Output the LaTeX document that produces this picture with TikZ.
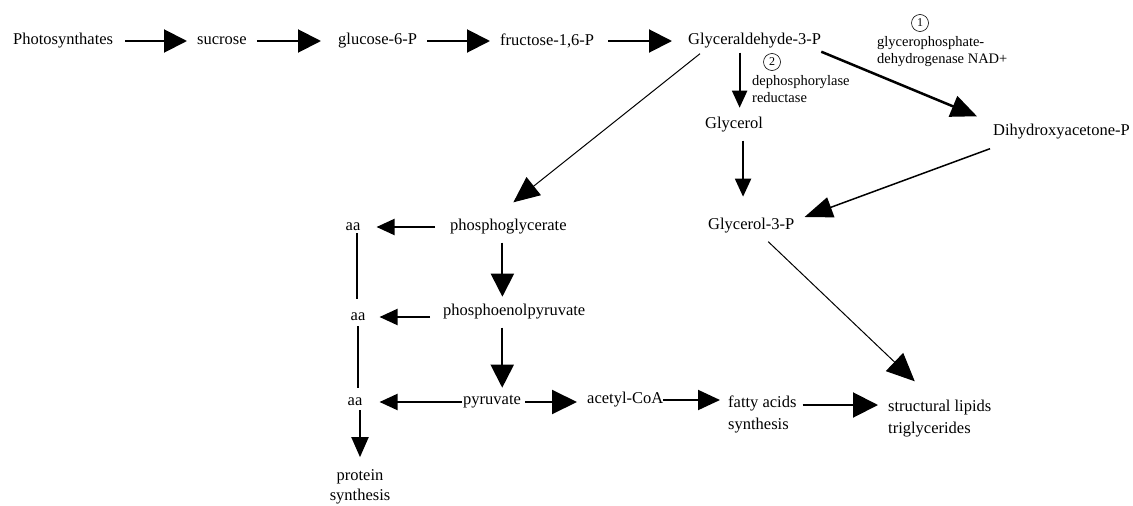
\documentclass[tikz,border=0pt]{standalone}
\usepackage{fontspec}
\setmainfont{Liberation Serif}
\usetikzlibrary{arrows.meta,calc}
\begin{document}
\begin{tikzpicture}[x=1pt,y=-1pt,
  lbl/.style={inner sep=0pt,font=\fontsize{16.5pt}{22pt}\selectfont,anchor=west},
  small/.style={inner sep=0pt,font=\fontsize{14.5pt}{17pt}\selectfont,anchor=west,align=left},
  num/.style={circle,draw,line width=0.6pt,inner sep=0pt,minimum size=17pt,font=\fontsize{12pt}{12pt}\selectfont},
  bigarr/.style={line width=2pt,-{Triangle[length=23pt,width=23pt]}},
  midarr/.style={line width=2pt,-{Triangle[length=18pt,width=16pt]}},
  thinarr/.style={line width=1pt,-{Triangle[length=26pt,width=23pt]}},
  plain/.style={line width=1.8pt}]
\useasboundingbox (0,0) rectangle (1133,506);
% top row
\node[lbl] (photo) at (13,41) {Photosynthates};
\node[lbl] (suc) at (197,41) {sucrose};
\node[lbl] (g6p) at (338,41) {glucose-6-P};
\node[lbl] (f16p) at (500,41) {fructose-1,6-P};
\node[lbl] (gap) at (688,41) {Glyceraldehyde-3-P};
% enzymes
\node[num] (c1) at (920,23) {1};
\node[small] (enz1) at (877,52) {glycerophosphate-\\dehydrogenase NAD+};
\node[num] (c2) at (772,62) {2};
\node[small] (enz2) at (752,89) {dephosphorylase\\reductase};
% right column
\node[lbl] (glyc) at (705,125) {Glycerol};
\node[lbl] (dhap) at (993,132) {Dihydroxyacetone-P};
\node[lbl] (g3p) at (708,226) {Glycerol-3-P};
% middle column
\node[lbl] (pg) at (450,227) {phosphoglycerate};
\node[lbl] (pep) at (443,312) {phosphoenolpyruvate};
\node[lbl] (pyr) at (463,402) {pyruvate};
\node[lbl] (acoa) at (587,400) {acetyl-CoA};
\node[lbl,align=left] (fa) at (728,414) {fatty acids\\synthesis};
\node[lbl,align=left] (sl) at (888,419) {structural lipids\\triglycerides};
% aa column
\node[lbl,anchor=center] (aa1) at (353,227) {aa};
\node[lbl,anchor=center] (aa2) at (358,317) {aa};
\node[lbl,anchor=center] (aa3) at (355,402) {aa};
\node[lbl,anchor=center,align=center,font=\fontsize{16.5pt}{20pt}\selectfont] (prot) at (360,487) {protein\\synthesis};

% top row arrows
\draw[bigarr] ($(photo.east)+(12,0)$) -- ($(suc.west)+(-10,0)$);
\draw[bigarr] ($(suc.east)+(10,0)$) -- ($(g6p.west)+(-17,0)$);
\draw[bigarr] ($(g6p.east)+(10,0)$) -- ($(f16p.west)+(-10,0)$);
\draw[bigarr] ($(f16p.east)+(14,0)$) -- ($(gap.west)+(-16,0)$);
% glyceraldehyde branches
\draw[line width=2pt,-{Triangle[length=17pt,width=15pt]}] ($(gap.south)+(-15,4)$) -- ++(0,55);
\draw[line width=2.5pt,-{Triangle[length=26pt,width=22pt]}] ($(gap.south east)+(0,3)$) -- ($(dhap.north west)+(-16,-8)$);
\draw[thinarr] ($(gap.south west)+(12,5)$) -- ($(pg.north)+(5,-17)$);
% glycerol path
\draw[midarr] ($(glyc.south)+(9,8)$) -- ++(0,56);
\draw[line width=1.5pt,-{Triangle[length=28pt,width=21pt]}] ($(dhap.south west)+(-3,9)$) -- ($(g3p.east)+(10,-9)$);
\draw[line width=1pt,-{Triangle[length=28pt,width=25pt]}] ($(g3p.south)+(17,8)$) -- ($(sl.north)+(-25,-19)$);
% middle
\draw[midarr] ($(pg.west)+(-15,0)$) -- ($(aa1.east)+(16,0)$);
\draw[bigarr] ($(pg.south)+(-6,8)$) -- ++(0,54);
\draw[midarr] ($(pep.west)+(-13,5)$) -- ($(aa2.east)+(14,0)$);
\draw[bigarr] ($(pep.south)+(-12,8)$) -- ++(0,60);
\draw[midarr] ($(pyr.west)+(-1,0)$) -- ($(aa3.east)+(17,0)$);
\draw[line width=2pt,-{Triangle[length=25pt,width=24pt]}] ($(pyr.east)+(4,0)$) -- ($(acoa.west)+(-10,2)$);
\draw[line width=2pt,-{Triangle[length=22pt,width=20pt]}] (acoa.east) -- ($(fa.west)+(-8,-14)$);
\draw[line width=2pt,-{Triangle[length=25pt,width=25pt]}] ($(fa.east)+(6,-9)$) -- ($(sl.west)+(-10,-14)$);
% aa column
\draw[plain] ($(aa1.south)+(4,2)$) -- ++(0,66);
\draw[plain] ($(aa2.south)+(0,5)$) -- ++(0,62);
\draw[line width=2pt,-{Triangle[length=20pt,width=17pt]}] ($(aa3.south)+(5,4)$) -- ++(0,47);
\end{tikzpicture}
\end{document}
